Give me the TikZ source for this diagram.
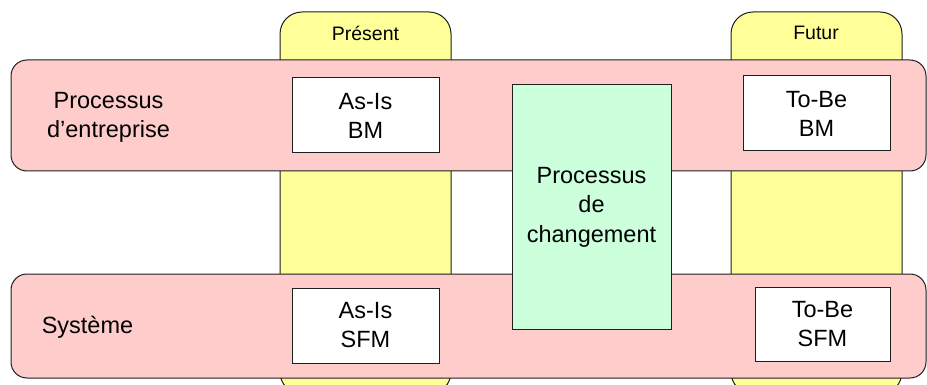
\documentclass[tikz,border=0pt]{standalone}
\usepackage{fontspec}
\setmainfont{Liberation Sans}
\definecolor{yelc}{RGB}{255,255,153}
\definecolor{pinkc}{RGB}{255,204,204}
\definecolor{greenc}{RGB}{204,255,219}
\definecolor{linec}{RGB}{30,30,30}
\tikzset{
  column/.style={draw=linec, fill=yelc, line width=1pt, rounded corners=22pt, inner sep=0pt},
  band/.style={draw=linec, fill=pinkc, line width=1pt, rounded corners=16pt, inner sep=0pt},
  wbox/.style={draw=linec, fill=white, line width=1pt, align=center, inner sep=0pt,
    font=\fontsize{23.5}{29}\selectfont},
  gbox/.style={draw=linec, fill=greenc, line width=1pt, align=center, inner sep=0pt,
    font=\fontsize{23.5}{29.5}\selectfont},
  hdr/.style={inner sep=0pt, font=\fontsize{19.5}{23}\selectfont},
  lbl/.style={inner sep=0pt, align=center, font=\fontsize{23.5}{29}\selectfont}
}
\begin{document}
\begin{tikzpicture}[x=1pt,y=-1pt]
\useasboundingbox (0,0) rectangle (927,385);
\clip (0,0) rectangle (927,385);
% columns
\node[column, minimum width=171pt, minimum height=382pt] (present) at (365.5,203) {};
\node[column, minimum width=171pt, minimum height=382pt] (futur) at (816.5,203) {};
% bands
\node[band, minimum width=915pt, minimum height=111pt] (bandbp) at (468.5,115.5) {};
\node[band, minimum width=915pt, minimum height=104pt] (bandsys) at (468.5,326) {};
% headers
\node[hdr] (presentlbl) at (365.5,33) {Présent};
\node[hdr] (futurlbl) at (816,33) {Futur};
% band labels
\node[lbl] (bplbl) at (108.5,117) {Processus\\d’entreprise};
\node[lbl] (syslbl) at (87.5,327) {Système};
% boxes
\node[wbox, minimum width=147pt, minimum height=75pt] (asisbm) at (365.5,115.5) {As-Is\\BM};
\node[wbox, minimum width=147pt, minimum height=75pt] (asissfm) at (365.5,325.5) {As-Is\\SFM};
\node[wbox, minimum width=147pt, minimum height=75pt] (tobebm) at (816.5,113.5) {To-Be\\BM};
\node[wbox, minimum width=135pt, minimum height=74pt] (tobesfm) at (822.5,324) {To-Be\\SFM};
\node[gbox, minimum width=159pt, minimum height=244pt] (change) at (591.5,207) {Processus\\de\\changement};
\end{tikzpicture}
\end{document}
